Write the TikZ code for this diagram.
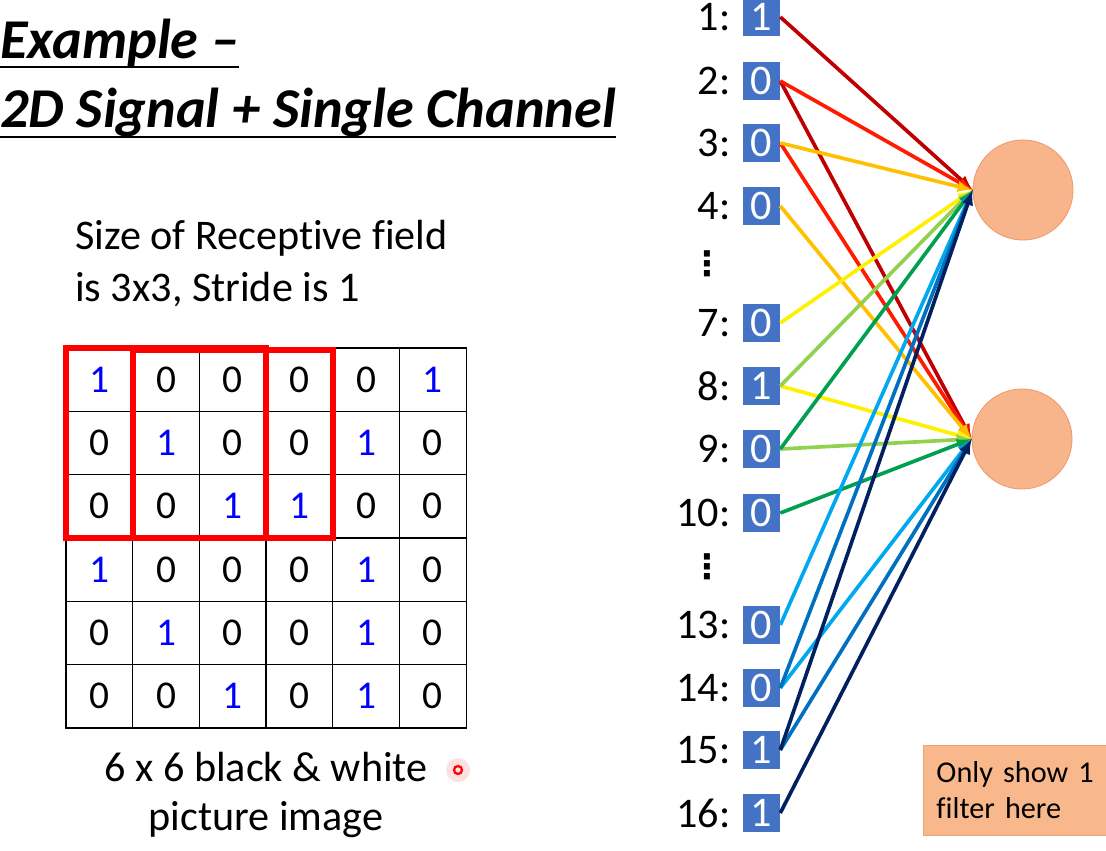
\documentclass[tikz,border=0pt]{standalone}
\usepackage{fontspec}
\setmainfont{Carlito}[Ligatures=NoCommon]
\newfontfamily\symfont{DejaVu Sans}
\usetikzlibrary{positioning}
\definecolor{boxblue}{HTML}{4472C4}
\definecolor{neuronfill}{HTML}{F8B58C}
\definecolor{neuronline}{HTML}{EE9A68}
\definecolor{notefill}{HTML}{F8B88C}
\definecolor{noteline}{HTML}{F0A272}
\definecolor{wdarkred}{HTML}{C00000}
\definecolor{wred}{HTML}{FF1A00}
\definecolor{worange}{HTML}{FFC000}
\definecolor{wyellow}{HTML}{FFF000}
\definecolor{wlgreen}{HTML}{92D050}
\definecolor{wgreen}{HTML}{00A050}
\definecolor{wlblue}{HTML}{00A8F0}
\definecolor{wblue}{HTML}{0070C0}
\definecolor{wdblue}{HTML}{002060}
\begin{document}
\begin{tikzpicture}[
			x=0.025cm, y=-0.025cm,
			>=latex,
			title/.style={
				inner sep=0,
				font=\bfseries\itshape\fontsize{40}{48}\selectfont,
			},
			uline/.style={line width=1.6pt},
			cell/.style={
				draw,
				rectangle,
				anchor=west,
				inner sep=0,
				outer sep=0,
				line width=0.9pt,
				minimum width=1.667cm,
				minimum height=1.583cm,
				font=\fontsize{28}{28}\selectfont,
			},
			one/.style={cell, text=blue},
			frame/.style={draw=red, line width=4.2pt},
			inbox/.style={
				fill=boxblue,
				text=white,
				inner sep=0,
				minimum width=0.925cm,
				minimum height=0.95cm,
				font=\fontsize{30}{30}\selectfont,
			},
			idx/.style={inner sep=0, font=\fontsize{30}{30}\selectfont},
			more/.style={inner sep=0, font=\symfont\bfseries\fontsize{24}{24}\selectfont},
			neuron/.style={circle, fill=neuronfill, draw=neuronline, line width=0.6pt, minimum size=2.5cm},
			link/.style={->, line width=2.6pt},
			w1/.style={link, draw=wdarkred},
			w2/.style={link, draw=wred},
			w3/.style={link, draw=worange},
			w4/.style={link, draw=wyellow},
			w5/.style={link, draw=wlgreen},
			w6/.style={link, draw=wgreen},
			w7/.style={link, draw=wlblue},
			w8/.style={link, draw=wblue},
			w9/.style={link, draw=wdblue},
		]
		\useasboundingbox (0,0) rectangle (1106,850);

		% title
		\node[title, anchor=base west] (t1) at (0,58) {Example –};
		\node[title, anchor=base west] (t2) at (0,127) {2D Signal + Single Channel};
		\draw[uline] (t1.south west) -- (t1.south east);
		\draw[uline] (t2.south west) -- (t2.south east);

		\node[anchor=west, align=left, inner sep=0, font=\fontsize{30}{37}\selectfont] (rf) at (75,264) {Size of Receptive field\\is 3x3, Stride is 1};

		% 6x6 image
		\node[one] (a11) at (66,379.7) {1} node[cell] (a12) at (a11.east) {0} node[cell] (a13) at (a12.east) {0} node[cell] (a14) at (a13.east) {0} node[cell] (a15) at (a14.east) {0} node[one] (a16) at (a15.east) {1};
		\node[cell] (a21) at (66,443) {0} node[one] (a22) at (a21.east) {1} node[cell] (a23) at (a22.east) {0} node[cell] (a24) at (a23.east) {0} node[one] (a25) at (a24.east) {1} node[cell] (a26) at (a25.east) {0};
		\node[cell] (a31) at (66,506.3) {0} node[cell] (a32) at (a31.east) {0} node[one] (a33) at (a32.east) {1} node[one] (a34) at (a33.east) {1} node[cell] (a35) at (a34.east) {0} node[cell] (a36) at (a35.east) {0};
		\node[one] (a41) at (66,569.7) {1} node[cell] (a42) at (a41.east) {0} node[cell] (a43) at (a42.east) {0} node[cell] (a44) at (a43.east) {0} node[one] (a45) at (a44.east) {1} node[cell] (a46) at (a45.east) {0};
		\node[cell] (a51) at (66,633) {0} node[one] (a52) at (a51.east) {1} node[cell] (a53) at (a52.east) {0} node[cell] (a54) at (a53.east) {0} node[one] (a55) at (a54.east) {1} node[cell] (a56) at (a55.east) {0};
		\node[cell] (a61) at (66,696.3) {0} node[cell] (a62) at (a61.east) {0} node[one] (a63) at (a62.east) {1} node[cell] (a64) at (a63.east) {0} node[one] (a65) at (a64.east) {1} node[cell] (a66) at (a65.east) {0};

		\draw[frame] (a11.north west) rectangle (a33.south east);
		\draw[frame] ([yshift=-1.5pt]a12.north west) rectangle (a34.south east);

		\node[align=center, inner sep=0, font=\fontsize{30}{35}\selectfont] (cap) at (266,795) {6 x 6 black \& white\\picture image};
		\node[circle, fill=red!12, minimum size=0.6cm, inner sep=0] (glow) at (458,770) {};
		\node[circle, draw=red, line width=1.6pt, minimum size=0.2cm, inner sep=0] (ptr) at (glow) {};

		% flattened input
		\node[inbox] (x1) at (761.5,17) {1};
		\node[inbox] (x2) at (761.5,81) {0};
		\node[inbox] (x3) at (761.5,143) {0};
		\node[inbox] (x4) at (761.5,206) {0};
		\node[inbox] (x7) at (761.5,323) {0};
		\node[inbox] (x8) at (761.5,386) {1};
		\node[inbox] (x9) at (761.5,449) {0};
		\node[inbox] (x10) at (761.5,513) {0};
		\node[inbox] (x13) at (761.5,625) {0};
		\node[inbox] (x14) at (761.5,688) {0};
		\node[inbox] (x15) at (761.5,750) {1};
		\node[inbox] (x16) at (761.5,813) {1};

		\node[idx, left=0.3cm of x1] (l1) {1:};
		\node[idx, left=0.3cm of x2] (l2) {2:};
		\node[idx, left=0.3cm of x3] (l3) {3:};
		\node[idx, left=0.3cm of x4] (l4) {4:};
		\node[idx, left=0.3cm of x7] (l7) {7:};
		\node[idx, left=0.3cm of x8] (l8) {8:};
		\node[idx, left=0.3cm of x9] (l9) {9:};
		\node[idx, left=0.3cm of x10] (l10) {10:};
		\node[idx, left=0.3cm of x13] (l13) {13:};
		\node[idx, left=0.3cm of x14] (l14) {14:};
		\node[idx, left=0.3cm of x15] (l15) {15:};
		\node[idx, left=0.3cm of x16] (l16) {16:};

		\node[more] (d1) at (707,264) {⋮};
		\node[more] (d2) at (707,567) {⋮};

		% hidden units
		\node[neuron] (h1) at (1023,190) {};
		\node[neuron] (h2) at (1022,439) {};

		\draw (x2.east) edge[w1] (h2.west);
		\draw (x3.east) edge[w2] (h2.west);
		\draw (x4.east) edge[w3] (h2.west);
		\draw (x8.east) edge[w4] (h2.west);
		\draw (x9.east) edge[w5] (h2.west);
		\draw (x10.east) edge[w6] (h2.west);
		\draw (x14.east) edge[w7] (h2.west);
		\draw (x15.east) edge[w8] (h2.west);
		\draw (x16.east) edge[w9] (h2.west);

		\draw (x1.east) edge[w1] (h1.west);
		\draw (x2.east) edge[w2] (h1.west);
		\draw (x3.east) edge[w3] (h1.west);
		\draw (x7.east) edge[w4] (h1.west);
		\draw (x8.east) edge[w5] (h1.west);
		\draw (x9.east) edge[w6] (h1.west);
		\draw (x13.east) edge[w7] (h1.west);
		\draw (x14.east) edge[w8] (h1.west);
		\draw (x15.east) edge[w9] (h1.west);

		\node[fill=notefill, draw=noteline, anchor=north west, align=left, text width=4.4cm, minimum height=2.25cm, inner sep=0.33cm, font=\fontsize{21.5}{26}\selectfont] (note) at (923,745) {Only show 1\\filter here};

	\end{tikzpicture}
\end{document}
